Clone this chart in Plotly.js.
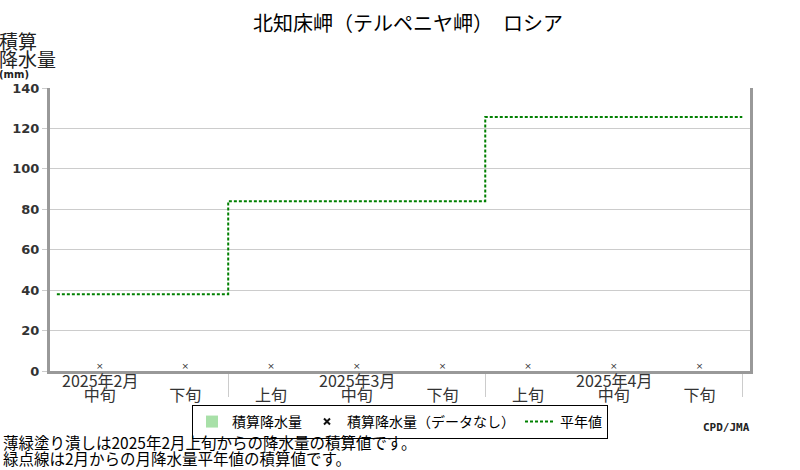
<!DOCTYPE html>
<html>
<head>
<meta charset="utf-8">
<script src="https://cdn.plot.ly/plotly-3.0.1.min.js"></script>
<style>
  body { margin: 0; background: #fff; }
  #chart { width: 800px; height: 470px; }
</style>
</head>
<body>
<div id="chart"></div>
<script>
// dekad positions (0 = Feb 上旬)
var dekadPos = [1, 2, 3, 4, 5, 6, 7, 8];
var dekadLabels = ['中旬', '下旬', '上旬', '中旬', '下旬', '上旬', '中旬', '下旬'];
var monthLabelPos = [1, 4, 7];
var monthLabels = ['2025年2月', '2025年3月', '2025年4月'];

// observed cumulative precipitation: no data for every dekad
var obsCum = [null, null, null, null, null, null, null, null];
var missingY = [0, 0, 0, 0, 0, 0, 0, 0];

// cumulative monthly normals, month edges (Feb start, Mar start, Apr start, end)
var normalX = [0.5, 2.5, 5.5, 8.5];
var normalCum = [38, 84, 125.6, 125.6];

var noteLines = [
  '薄緑塗り潰しは2025年2月上旬からの降水量の積算値です。',
  '緑点線は2月からの月降水量平年値の積算値です。'
];

var font = '"Noto Sans CJK JP", "Noto Sans", sans-serif';

var traces = [
  {
    name: '積算降水量',
    x: dekadPos,
    y: obsCum,
    type: 'bar',
    marker: { color: '#a8e0a8' }
  },
  {
    name: '積算降水量（データなし）',
    x: dekadPos,
    y: missingY,
    type: 'scatter',
    mode: 'text',
    text: dekadPos.map(function () { return '×'; }),
    textposition: 'top center',
    textfont: { family: '"DejaVu Sans", sans-serif', size: 9, color: '#333' },
    cliponaxis: false,
    legendgroup: 'nd',
    showlegend: false,
    hoverinfo: 'skip'
  },
  {
    name: '積算降水量（データなし）',
    x: dekadPos,
    y: obsCum,
    type: 'scatter',
    mode: 'markers',
    marker: { symbol: 'x-thin-open', size: 6, color: '#111', line: { width: 2, color: '#111' } },
    legendgroup: 'nd'
  },
  {
    name: '平年値',
    x: normalX,
    y: normalCum,
    type: 'scatter',
    mode: 'lines',
    line: { shape: 'hv', color: '#008000', width: 2, dash: '3px,2px' }
  }
];

var annotations = monthLabels.map(function (t, i) {
  return {
    text: t, x: monthLabelPos[i], xref: 'x', y: 0, yref: 'paper', yshift: 4,
    yanchor: 'top', borderpad: 0, showarrow: false,
    font: { family: font, size: 16, color: '#333' }
  };
});
function leftNote(text, yshift, size, fam, bold) {
  return {
    text: bold ? '<b>' + text + '</b>' : text,
    x: 0, xref: 'paper', xanchor: 'left', xshift: -52,
    y: 1, yref: 'paper', yshift: yshift, yanchor: 'middle',
    showarrow: false, align: 'left', borderpad: 0,
    font: { family: fam || font, size: size, color: '#222' }
  };
}
annotations.push(
  leftNote('積算', 48, 19),
  leftNote('降水量', 30, 19),
  leftNote('(mm)', 14, 10, '"DejaVu Sans", sans-serif', true),
  {
    text: '<b>CPD/JMA</b>', x: 1, xref: 'paper', xanchor: 'right', xshift: 2,
    y: 0, yref: 'paper', yshift: -56, yanchor: 'middle', showarrow: false,
    font: { family: '"DejaVu Sans Mono", monospace', size: 11, color: '#222' }
  }
);
noteLines.forEach(function (t, i) {
  var a = leftNote(t, -354 - i * 16, 15.5);
  a.xshift = -48;
  a.font.color = '#000';
  annotations.push(a);
});

var layout = {
  width: 800,
  height: 470,
  margin: { l: 50, r: 50, t: 88, b: 99 },
  paper_bgcolor: '#fff',
  plot_bgcolor: '#fff',
  font: { family: font, color: '#222' },
  title: {
    text: '北知床岬（テルペニヤ岬）　ロシア',
    font: { family: font, size: 20, color: '#000' },
    x: 0.51, xanchor: 'center', y: 0.948, yanchor: 'middle'
  },
  showlegend: true,
  legend: {
    orientation: 'h',
    x: 0.5, xanchor: 'center', y: -0.12, yanchor: 'top',
    bordercolor: '#000', borderwidth: 1, bgcolor: '#fff',
    font: { family: font, size: 14, color: '#000' },
    itemwidth: 30, tracegroupgap: 0
  },
  bargap: 0,
  xaxis: {
    range: [0.42, 8.59],
    tickvals: dekadPos,
    ticktext: dekadLabels,
    ticks: 'outside', ticklen: 8, tickcolor: 'rgba(0,0,0,0)',
    tickfont: { family: font, size: 16, color: '#333' },
    showgrid: false, zeroline: false,
    showline: true, linecolor: '#999', linewidth: 3,
    minor: { tick0: 2.5, dtick: 3, ticks: 'outside', ticklen: 23, tickcolor: '#ccc', tickwidth: 1, showgrid: false },
    fixedrange: true
  },
  yaxis: {
    range: [0, 140],
    dtick: 20,
    ticks: 'outside', ticklen: 5, tickcolor: '#ccc',
    tickfont: { family: '"DejaVu Sans", sans-serif', size: 13, color: '#333', weight: 'bold' },
    gridcolor: '#ccc', gridwidth: 1, zeroline: false,
    showline: true, linecolor: '#999', linewidth: 3, mirror: true,
    fixedrange: true
  },
  annotations: annotations
};

Plotly.newPlot('chart', traces, layout, { displayModeBar: false, staticPlot: true });
</script>
</body>
</html>
